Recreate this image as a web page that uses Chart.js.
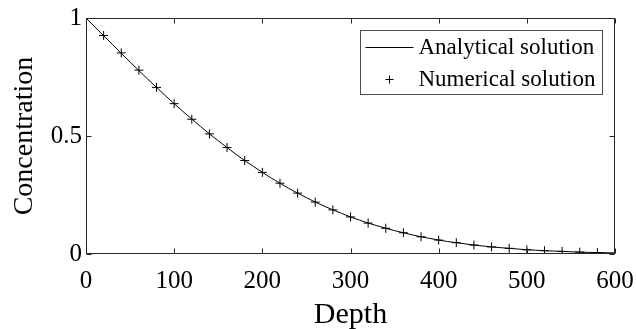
<!DOCTYPE html>
<html>
<head>
<meta charset="utf-8">
<script src="https://cdn.jsdelivr.net/npm/chart.js@4.4.1/dist/chart.umd.min.js"></script>
<style>
  html, body { margin: 0; padding: 0; background: #fff; }
  #wrap { width: 636px; height: 329px; }
</style>
</head>
<body>
<div id="wrap"><canvas id="chart"></canvas></div>
<script>
const depthFine = [0, 10, 20, 30, 40, 50, 60, 70, 80, 90, 100, 110, 120, 130, 140, 150,
    160, 170, 180, 190, 200, 210, 220, 230, 240, 250, 260, 270, 280, 290, 300,
    310, 320, 330, 340, 350, 360, 370, 380, 390, 400, 410, 420, 430, 440, 450,
    460, 470, 480, 490, 500, 510, 520, 530, 540, 550, 560, 570, 580, 590, 600];
const analytical = [1, 0.962, 0.925, 0.888, 0.850, 0.814, 0.777, 0.741, 0.706, 0.671,
    0.637, 0.604, 0.572, 0.540, 0.509, 0.480, 0.451, 0.423, 0.396, 0.371,
    0.346, 0.322, 0.300, 0.278, 0.258, 0.239, 0.220, 0.203, 0.187, 0.172,
    0.157, 0.144, 0.131, 0.120, 0.109, 0.099, 0.090, 0.081, 0.073, 0.066,
    0.059, 0.053, 0.048, 0.043, 0.038, 0.034, 0.030, 0.027, 0.024, 0.021,
    0.018, 0.016, 0.014, 0.0125, 0.011, 0.0095, 0.008, 0.007, 0.006, 0.0054, 0.0047];

// numerical solution, one marker every 20
const depthNum = [0, 20, 40, 60, 80, 100, 120, 140, 160, 180, 200, 220, 240, 260, 280,
    300, 320, 340, 360, 380, 400, 420, 440, 460, 480, 500, 520, 540, 560, 580];
const numerical = [1, 0.926, 0.852, 0.779, 0.706, 0.637, 0.571, 0.509, 0.451, 0.396,
    0.346, 0.300, 0.258, 0.220, 0.187, 0.157, 0.131, 0.109, 0.090, 0.073,
    0.059, 0.048, 0.038, 0.030, 0.024, 0.018, 0.014, 0.011, 0.008, 0.006];

const xTicks = [0, 100, 200, 300, 400, 500, 600];
const yTicks = [0, 0.5, 1];
const yTickLabels = ['0', '0.5', '1'];
const seriesNames = ['Analytical solution', 'Numerical solution'];

const serif = "'Liberation Serif', 'Times New Roman', serif";
const ink = '#262626';

const toPoints = (xs, ys) => xs.map((x, i) => ({ x: x, y: ys[i] }));

// MATLAB-like box with inward ticks on all four sides
const boxAxes = {
    id: 'boxAxes',
    afterDatasetsDraw(chart) {
        const { ctx, chartArea: a, scales } = chart;
        const L = Math.round(a.left) + 0.5, R = Math.round(a.right) - 0.5;
        const T = Math.round(a.top) + 0.5, B = Math.round(a.bottom) - 0.5;
        const len = 5;
        ctx.save();
        ctx.strokeStyle = ink;
        ctx.lineWidth = 1;
        ctx.strokeRect(L, T, R - L, B - T);
        ctx.beginPath();
        xTicks.forEach(v => {
            const px = Math.round(scales.x.getPixelForValue(v)) + 0.5;
            ctx.moveTo(px, B); ctx.lineTo(px, B - len);
            ctx.moveTo(px, T); ctx.lineTo(px, T + len);
        });
        yTicks.forEach(v => {
            const py = Math.round(scales.y.getPixelForValue(v)) + 0.5;
            ctx.moveTo(L, py); ctx.lineTo(L + len, py);
            ctx.moveTo(R, py); ctx.lineTo(R - len, py);
        });
        ctx.stroke();
        ctx.restore();
    }
};

// legend drawn inside the plot, top right
const insideLegend = {
    id: 'insideLegend',
    afterDraw(chart) {
        const { ctx, chartArea: a } = chart;
        ctx.save();
        ctx.font = '23px ' + serif;
        const textW = Math.max(...chart.data.datasets.map(d => ctx.measureText(d.label).width));
        const w = Math.round(58 + textW + 7);
        const h = 64;
        const bx = Math.round(a.right) - 13 - w + 0.5;
        const by = Math.round(a.top) + 12 + 0.5;
        ctx.fillStyle = '#fff';
        ctx.fillRect(bx, by, w, h);
        ctx.strokeStyle = '#4d4d4d';
        ctx.lineWidth = 1;
        ctx.strokeRect(bx, by, w, h);

        const rows = [by + 16, by + 48];
        chart.data.datasets.forEach((d, i) => {
            const cy = Math.round(rows[i]) + 0.5;
            ctx.strokeStyle = d.borderColor;
            ctx.lineWidth = 1;
            ctx.beginPath();
            if (d.showLine === false) {
                const cx = bx + 29;
                ctx.moveTo(cx - 4, cy); ctx.lineTo(cx + 4, cy);
                ctx.moveTo(cx, cy - 4); ctx.lineTo(cx, cy + 4);
            } else {
                ctx.moveTo(bx + 5, cy); ctx.lineTo(bx + 53, cy);
            }
            ctx.stroke();
            ctx.fillStyle = '#000';
            ctx.textAlign = 'left';
            ctx.textBaseline = 'middle';
            ctx.fillText(d.label, bx + 58, cy);
        });
        ctx.restore();
    }
};

new Chart(document.getElementById('chart'), {
    type: 'line',
    data: {
        datasets: [{
            label: seriesNames[0],
            data: toPoints(depthFine, analytical),
            borderColor: '#000',
            borderWidth: 1,
            pointRadius: 0,
            tension: 0,
            fill: false
        }, {
            label: seriesNames[1],
            data: toPoints(depthNum, numerical),
            showLine: false,
            borderColor: '#000',
            backgroundColor: '#000',
            borderWidth: 1,
            pointStyle: 'cross',
            pointRadius: 4.5
        }]
    },
    options: {
        responsive: true,
        maintainAspectRatio: false,
        animation: false,
        layout: { padding: { top: 18, right: 21, left: 0, bottom: 0 } },
        plugins: {
            legend: { display: false },
            tooltip: { enabled: false }
        },
        scales: {
            x: {
                type: 'linear',
                min: 0,
                max: 600,
                afterBuildTicks: s => { s.ticks = xTicks.map(v => ({ value: v })); },
                afterFit: s => { s.height = 75; s.paddingLeft = 0; s.paddingRight = 0; },
                grid: { display: false, drawTicks: false },
                border: { display: false },
                ticks: { color: '#000', padding: 12, maxRotation: 0, font: { family: serif, size: 25 } },
                title: {
                    display: true,
                    text: 'Depth',
                    color: '#000',
                    padding: { top: 0, bottom: 0 },
                    font: { family: serif, size: 30, lineHeight: 0.9 }
                }
            },
            y: {
                type: 'linear',
                min: 0,
                max: 1,
                afterBuildTicks: s => { s.ticks = yTicks.map(v => ({ value: v })); },
                afterFit: s => { s.width = 86; s.paddingTop = 0; s.paddingBottom = 0; },
                grid: { display: false, drawTicks: false },
                border: { display: false },
                ticks: {
                    color: '#000',
                    padding: 4,
                    font: { family: serif, size: 25 },
                    callback: v => yTickLabels[yTicks.indexOf(v)]
                },
                title: {
                    display: true,
                    text: 'Concentration',
                    color: '#000',
                    padding: { top: 11, bottom: 0 },
                    font: { family: serif, size: 28, lineHeight: 1 }
                }
            }
        }
    },
    plugins: [boxAxes, insideLegend]
});
</script>
</body>
</html>
